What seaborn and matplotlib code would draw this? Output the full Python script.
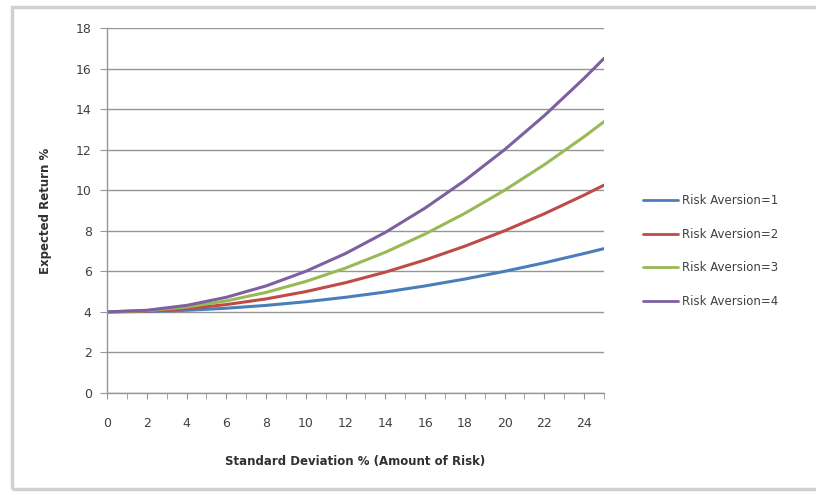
import matplotlib
matplotlib.use("Agg")
import matplotlib.pyplot as plt
from matplotlib.patches import Rectangle
from matplotlib.ticker import MultipleLocator
import seaborn as sns
import pandas as pd

sigma = [0, 2, 4, 6, 8, 10, 12, 14, 16, 18, 20, 22, 24, 25]
ra1 = [4.0, 4.02, 4.08, 4.18, 4.32, 4.5, 4.72, 4.98, 5.28, 5.62, 6.0, 6.42, 6.88, 7.12]
ra2 = [4.0, 4.04, 4.16, 4.36, 4.64, 5.0, 5.44, 5.96, 6.56, 7.24, 8.0, 8.84, 9.76, 10.25]
ra3 = [4.0, 4.06, 4.24, 4.54, 4.96, 5.5, 6.16, 6.94, 7.84, 8.86, 10.0, 11.26, 12.64, 13.38]
ra4 = [4.0, 4.08, 4.32, 4.72, 5.28, 6.0, 6.88, 7.92, 9.12, 10.48, 12.0, 13.68, 15.52, 16.5]
series_names = ["Risk Aversion=1", "Risk Aversion=2", "Risk Aversion=3", "Risk Aversion=4"]
colors = ["#4A7EBB", "#BE4B48", "#98B954", "#7D60A0"]

rows = []
for name, vals in zip(series_names, [ra1, ra2, ra3, ra4]):
    for x, y in zip(sigma, vals):
        rows.append({"sigma": x, "ret": y, "series": name})
df = pd.DataFrame(rows)

sns.set_style("white")
plt.rcParams["font.family"] = ["DejaVu Sans"]

fig = plt.figure(figsize=(8.16, 4.94), dpi=100)
fig.patches.append(Rectangle((12 / 816, 1 - 489 / 494), 1.2, (489 - 7) / 494,
                             transform=fig.transFigure, fill=False,
                             edgecolor="#D0D0D0", linewidth=2.5))
ax = fig.add_axes([107 / 816, 1 - 393 / 494, (604 - 107) / 816, (393 - 28) / 494])

sns.lineplot(data=df, x="sigma", y="ret", hue="series", palette=colors,
             linewidth=2.2, ax=ax, legend=False, sort=False)

ax.set_xlim(0, 25)
ax.set_ylim(0, 18)
ax.xaxis.set_major_locator(MultipleLocator(2))
ax.xaxis.set_minor_locator(MultipleLocator(1))
ax.yaxis.set_major_locator(MultipleLocator(2))
ax.grid(axis="y", color="#969696", linewidth=1.0)
ax.grid(axis="x", visible=False)
ax.set_axisbelow(True)
for s in ["top", "right"]:
    ax.spines[s].set_visible(False)
for s in ["left", "bottom"]:
    ax.spines[s].set_color("#969696")
    ax.spines[s].set_linewidth(1.0)
ax.tick_params(axis="x", which="both", direction="out", length=4, color="#969696",
               bottom=True, labelsize=9, labelcolor="#404040", pad=13)
ax.tick_params(axis="y", which="major", direction="out", length=5, color="#969696",
               left=True, labelsize=9, labelcolor="#404040", pad=6)
ax.set_xlabel("Standard Deviation % (Amount of Risk)", fontsize=8.5,
              fontweight="bold", color="#303030", labelpad=18)
ax.set_ylabel("Expected Return %", fontsize=8.5, fontweight="bold",
              color="#303030", labelpad=17)

handles = [plt.Line2D([], [], color=c, linewidth=2.0) for c in colors]
fig.legend(handles, series_names, loc="center left",
           bbox_to_anchor=(632 / 816, 1 - 251 / 494), frameon=False,
           fontsize=8.5, labelcolor="#404040", handlelength=3.0,
           handletextpad=0.3, labelspacing=1.75)

fig.savefig("out.png", dpi=100)
